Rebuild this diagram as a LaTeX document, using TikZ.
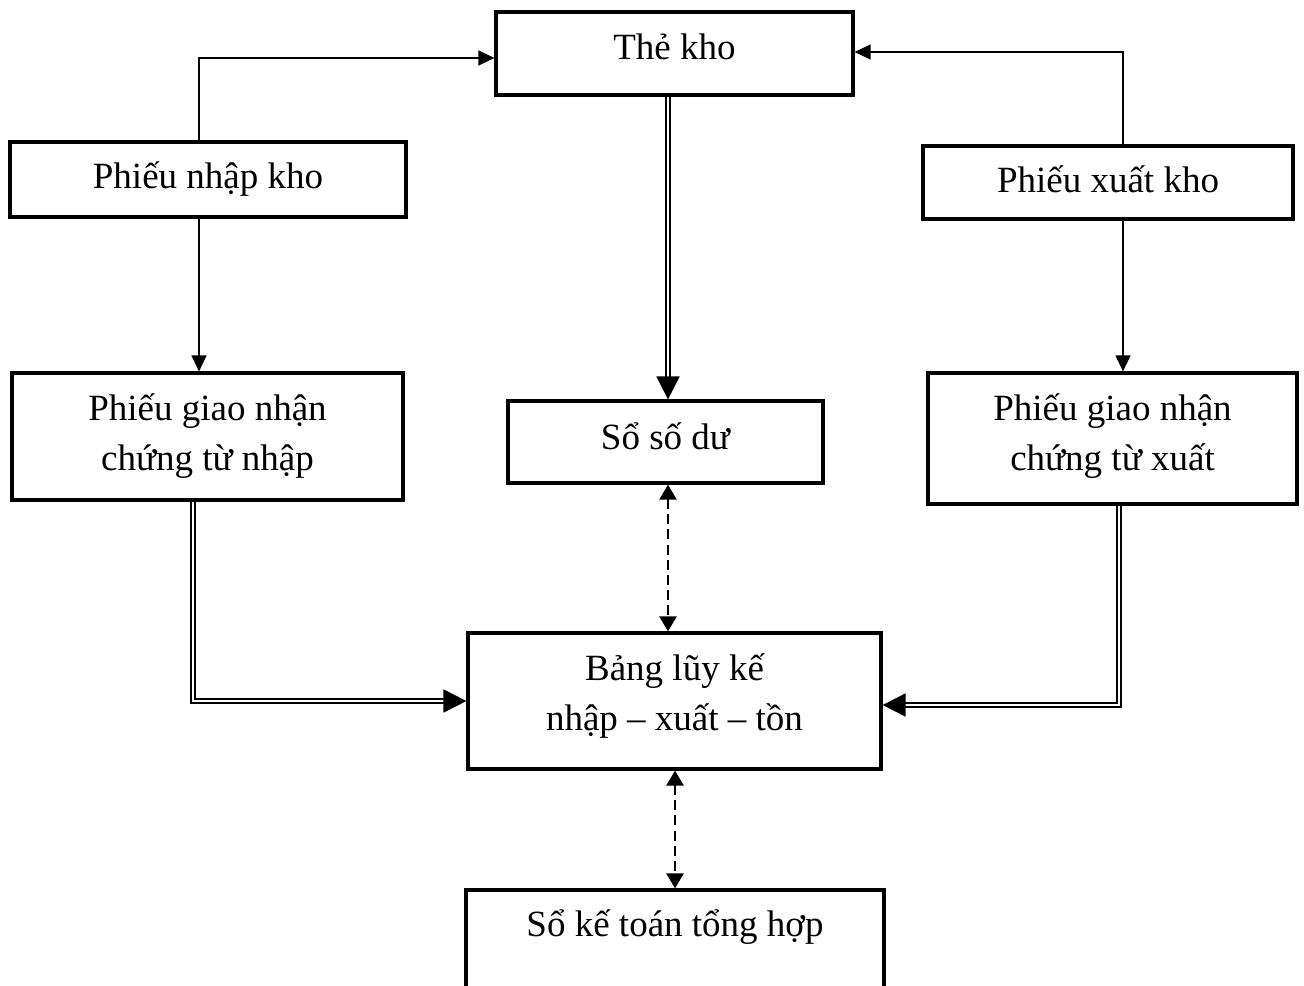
\documentclass[tikz,border=0pt]{standalone}
\usepackage{fontspec}
\setmainfont{Liberation Serif}
\usetikzlibrary{arrows.meta}
\begin{document}
\begin{tikzpicture}[x=0.5pt,y=-0.5pt,
  box/.style={draw,line width=1.6pt,inner sep=0pt,align=center,font=\fontsize{18.5}{25}\selectfont},
  thinarrow/.style={line width=0.65pt,-{Triangle[length=8pt,width=7.5pt]}},
  dblline/.style={double,line width=0.9pt,double distance=1.1pt},
  bigtip/.style={-{Triangle[length=11.5pt,width=11.5pt]}},
  dasharrow/.style={line width=1.2pt,dash pattern=on 5pt off 2.6pt,{Triangle[length=7.5pt,width=8.5pt]}-{Triangle[length=7.5pt,width=8.5pt]}}
]
\useasboundingbox (0,0) rectangle (1304,985);
\clip (0,0) rectangle (1304,985);
\fill[white] (0,0) rectangle (1304,985);

\node[box,minimum width=178.5pt,minimum height=41.5pt,text depth=7pt] (the) at (674.5,53.5) {Thẻ kho};
\node[box,minimum width=198pt,minimum height=37.5pt] (pnk) at (208,179.5) {Phiếu nhập kho};
\node[box,minimum width=185pt,minimum height=36.5pt,text depth=3pt] (pxk) at (1108,182.5) {Phiếu xuất kho};
\node[box,minimum width=195.5pt,minimum height=63.5pt] (gnn) at (207.5,436.5) {Phiếu giao nhận\\chứng từ nhập};
\node[box,minimum width=157.5pt,minimum height=41pt,text depth=6pt] (ssd) at (665.5,442) {Sổ số dư};
\node[box,minimum width=184.5pt,minimum height=65.5pt,text depth=6pt] (gnx) at (1112.5,438.5) {Phiếu giao nhận\\chứng từ xuất};
\node[box,minimum width=206.5pt,minimum height=68pt,text depth=9pt] (bang) at (674.5,701) {Bảng lũy kế\\nhập – xuất – tồn};
\node[box,minimum width=209pt,minimum height=60pt,text height=13pt,text depth=27pt] (skt) at (675,950) {Sổ kế toán tổng hợp};

\coordinate (a1) at (199,58);
\coordinate (a2) at (1123,52);
\coordinate (a3) at (668,0);
\coordinate (a4) at (193,701);
\coordinate (a5) at (1119,705);
\coordinate (a6) at (675,0);

\draw[thinarrow] (pnk.north -| a1) |- (the.west |- a1);
\draw[thinarrow] (pxk.north -| a2) |- (the.east |- a2);
\draw[thinarrow] (pnk.south -| a1) -- (gnn.north -| a1);
\draw[thinarrow] (pxk.south -| a2) -- (gnx.north -| a2);

\draw[dblline,bigtip] (the.south -| a3) -- (ssd.north -| a3);
\draw[dblline,bigtip] (gnn.south -| a4) |- (bang.west |- a4);
\draw[dblline,bigtip] (gnx.south -| a5) |- (bang.east |- a5);

\draw[dasharrow] (ssd.south -| a3) -- (bang.north -| a3);
\draw[dasharrow] (bang.south -| a6) -- (skt.north -| a6);
\end{tikzpicture}
\end{document}
